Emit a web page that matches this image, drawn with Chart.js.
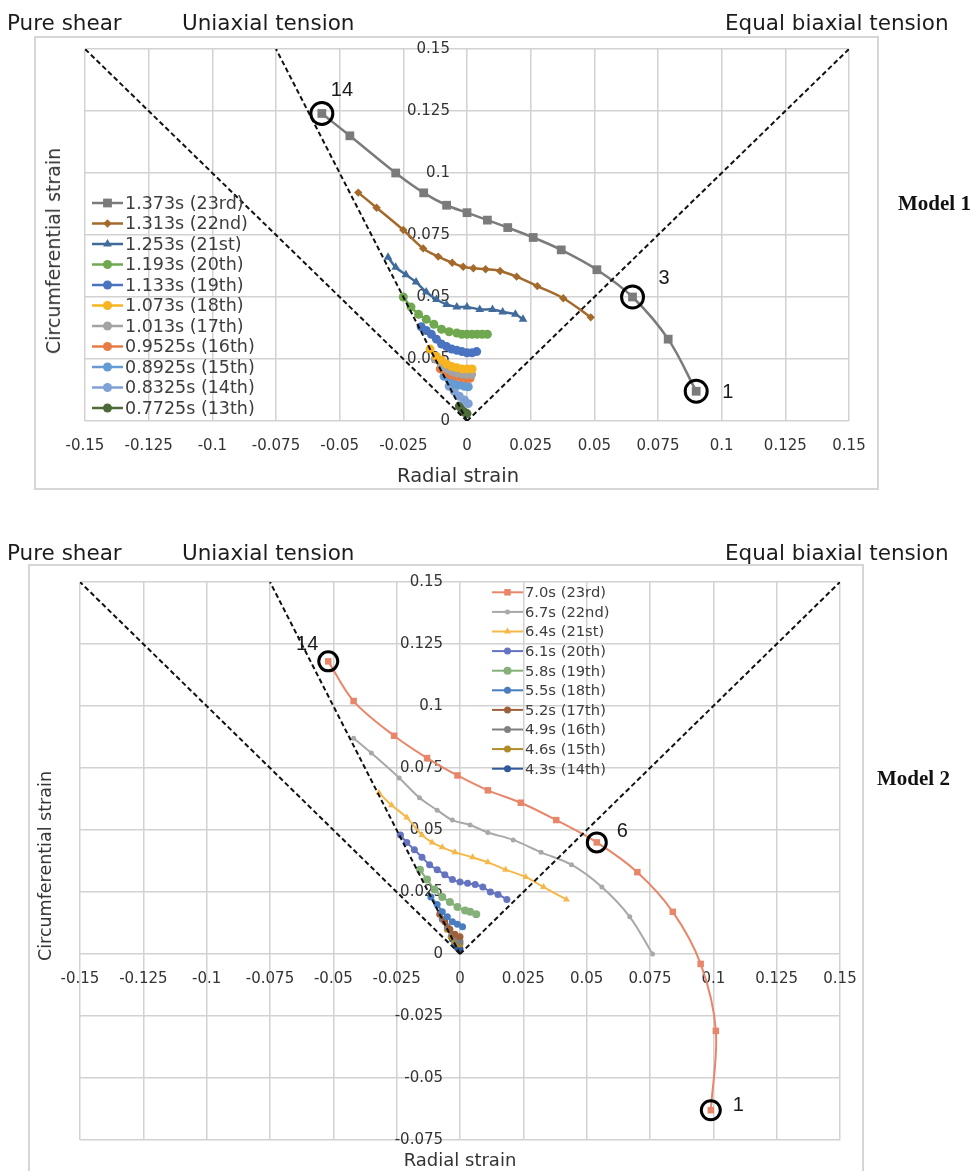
<!DOCTYPE html>
<html>
<head>
<meta charset="utf-8">
<script src="https://cdn.jsdelivr.net/npm/chart.js@4.4.1/dist/chart.umd.min.js"></script>
<style>
  body { margin: 0; width: 980px; height: 1171px; overflow: hidden; position: relative; background: #fff; font-family: "DejaVu Sans", sans-serif; }
  .frame { position: absolute; border: 2px solid #d6d6d6; box-sizing: border-box; }
  .t { position: absolute; white-space: nowrap; color: #1c1c1c; line-height: 26px; }
  .hdr { font-size: 21.5px; }
  .model { font-family: "Liberation Serif", serif; font-weight: bold; font-size: 21px; color: #111; }
  .axt { color: #333; }
  canvas { position: absolute; left: 0; }
</style>
</head>
<body>
<div class="frame" style="left:34px;top:36px;width:845px;height:454px"></div>
<div class="frame" style="left:28px;top:564px;width:836px;height:640px"></div>

<canvas id="c1" width="980" height="500" style="top:0"></canvas>
<canvas id="c2" width="980" height="631" style="top:540px"></canvas>

<div class="t hdr" style="left:7px;top:10px">Pure shear</div>
<div class="t hdr" style="left:182px;top:10px">Uniaxial tension</div>
<div class="t hdr" style="left:725px;top:10px">Equal biaxial tension</div>
<div class="t model" style="left:898px;top:190px">Model 1</div>
<div class="t axt" style="left:458px;top:463px;font-size:19.5px;transform:translateX(-50%)">Radial strain</div>
<div class="t axt" style="left:53px;top:251px;font-size:19px;transform:translate(-50%,-50%) rotate(-90deg)">Circumferential strain</div>

<div class="t hdr" style="left:7px;top:540px">Pure shear</div>
<div class="t hdr" style="left:182px;top:540px">Uniaxial tension</div>
<div class="t hdr" style="left:725px;top:540px">Equal biaxial tension</div>
<div class="t model" style="left:877px;top:765px">Model 2</div>
<div class="t axt" style="left:460px;top:1147px;font-size:18px;transform:translateX(-50%)">Radial strain</div>
<div class="t axt" style="left:45px;top:866px;font-size:17.5px;transform:translate(-50%,-50%) rotate(-90deg)">Circumferential strain</div>

<script>
// strain paths – [radial, circumferential] pairs

// reference lines (same in both models)
const pureShearLine = [[0, 0], [-0.15, 0.15]];
const uniaxialLine = [[0, 0], [-0.075, 0.15]];
const biaxialLine = [[0, 0], [0.15, 0.15]];

// Model 1
const m1Labels = ["1.373s (23rd)", "1.313s (22nd)", "1.253s (21st)", "1.193s (20th)", "1.133s (19th)",
  "1.073s (18th)", "1.013s (17th)", "0.9525s (16th)", "0.8925s (15th)", "0.8325s (14th)", "0.7725s (13th)"];
const m1s23 = [[0.090, 0.012], [0.079, 0.033], [0.065, 0.050], [0.051, 0.061], [0.037, 0.069], [0.026, 0.074],
  [0.016, 0.078], [0.008, 0.081], [0.000, 0.084], [-0.008, 0.087], [-0.017, 0.092], [-0.028, 0.100],
  [-0.046, 0.115], [-0.057, 0.124]];
const m1s22 = [[0.0486, 0.0418], [0.0378, 0.0495], [0.0276, 0.0544], [0.0195, 0.0582], [0.013, 0.0605],
  [0.0073, 0.0612], [0.0025, 0.0616], [-0.0015, 0.0622], [-0.0058, 0.0638], [-0.0113, 0.0663],
  [-0.0172, 0.0696], [-0.025, 0.077], [-0.0355, 0.086], [-0.0427, 0.0921]];
const m1s21 = [[0.022, 0.041], [0.019, 0.043], [0.014, 0.044], [0.010, 0.045], [0.005, 0.045], [0.000, 0.046],
  [-0.004, 0.046], [-0.008, 0.047], [-0.012, 0.049], [-0.016, 0.052], [-0.020, 0.056], [-0.024, 0.059],
  [-0.028, 0.062], [-0.031, 0.066]];
const m1s20 = [[0.008, 0.035], [0.006, 0.035], [0.004, 0.035], [0.002, 0.035], [0.000, 0.035], [-0.002, 0.035],
  [-0.004, 0.0355], [-0.007, 0.036], [-0.010, 0.037], [-0.013, 0.039], [-0.016, 0.041], [-0.019, 0.043],
  [-0.022, 0.046], [-0.025, 0.050]];
const m1s19 = [[0.0038, 0.028], [0.002, 0.0275], [0.000, 0.0275], [-0.002, 0.028], [-0.004, 0.0285],
  [-0.006, 0.029], [-0.008, 0.030], [-0.010, 0.031], [-0.012, 0.033], [-0.014, 0.035], [-0.016, 0.0365],
  [-0.018, 0.038]];
const m1s18 = [[0.002, 0.021], [0.000, 0.021], [-0.002, 0.021], [-0.004, 0.0215], [-0.006, 0.022],
  [-0.008, 0.023], [-0.010, 0.0245], [-0.012, 0.026], [-0.0145, 0.029]];
const m1s17 = [[0.0018, 0.0188], [0.000, 0.0188], [-0.002, 0.019], [-0.004, 0.0193], [-0.006, 0.020],
  [-0.008, 0.021], [-0.010, 0.0225], [-0.0125, 0.025]];
const m1s16 = [[0.0012, 0.0172], [0.000, 0.0172], [-0.002, 0.0175], [-0.004, 0.018], [-0.006, 0.0185],
  [-0.008, 0.0195], [-0.0105, 0.021]];
const m1s15 = [[0.0005, 0.0138], [-0.001, 0.014], [-0.003, 0.0145], [-0.005, 0.015], [-0.007, 0.0165],
  [-0.009, 0.018]];
const m1s14 = [[0.0005, 0.007], [-0.001, 0.0085], [-0.003, 0.010], [-0.005, 0.012], [-0.007, 0.014]];
const m1s13 = [[0.000, 0.003], [-0.001, 0.0035], [-0.002, 0.0045], [-0.003, 0.006]];
const m1Series = [m1s23, m1s22, m1s21, m1s20, m1s19, m1s18, m1s17, m1s16, m1s15, m1s14, m1s13];
const m1Circled = [0, 2, 13];          // point numbers 1, 3, 14 of the 23rd path
const m1CircleText = ["1", "3", "14"];

// Model 2
const m2Labels = ["7.0s (23rd)", "6.7s (22nd)", "6.4s (21st)", "6.1s (20th)", "5.8s (19th)",
  "5.5s (18th)", "5.2s (17th)", "4.9s (16th)", "4.6s (15th)", "4.3s (14th)"];
const m2s23 = [[0.099, -0.063], [0.101, -0.031], [0.095, -0.004], [0.084, 0.017], [0.070, 0.033],
  [0.054, 0.045], [0.038, 0.054], [0.024, 0.061], [0.011, 0.066], [-0.001, 0.072], [-0.013, 0.079],
  [-0.026, 0.088], [-0.042, 0.102], [-0.052, 0.118]];
const m2s22 = [[0.076, 0.000], [0.067, 0.015], [0.056, 0.027], [0.044, 0.036], [0.032, 0.041], [0.021, 0.046],
  [0.011, 0.049], [0.004, 0.052], [-0.003, 0.054], [-0.009, 0.058], [-0.016, 0.063], [-0.024, 0.071],
  [-0.035, 0.081], [-0.042, 0.087]];
const m2s21 = [[0.042, 0.022], [0.033, 0.027], [0.026, 0.031], [0.018, 0.034], [0.011, 0.037], [0.005, 0.039],
  [-0.002, 0.041], [-0.007, 0.043], [-0.011, 0.045], [-0.015, 0.048], [-0.021, 0.055], [-0.027, 0.060],
  [-0.032, 0.065]];
const m2s20 = [[0.0185, 0.022], [0.015, 0.024], [0.012, 0.025], [0.009, 0.027], [0.006, 0.028], [0.003, 0.0285],
  [0.000, 0.029], [-0.003, 0.030], [-0.006, 0.032], [-0.009, 0.034], [-0.012, 0.036], [-0.015, 0.039],
  [-0.018, 0.042], [-0.021, 0.045], [-0.0235, 0.048]];
const m2s19 = [[0.0064, 0.016], [0.004, 0.017], [0.002, 0.0175], [-0.001, 0.019], [-0.004, 0.021],
  [-0.007, 0.023], [-0.010, 0.026], [-0.013, 0.030], [-0.0158, 0.034]];
const m2s18 = [[0.001, 0.011], [-0.001, 0.012], [-0.003, 0.013], [-0.005, 0.015], [-0.007, 0.017],
  [-0.009, 0.020], [-0.0115, 0.023]];
const m2s17 = [[0.000, 0.007], [-0.002, 0.008], [-0.004, 0.010], [-0.006, 0.013], [-0.008, 0.016]];
const m2s16 = [[0.000, 0.005], [-0.001, 0.006], [-0.003, 0.008], [-0.005, 0.011], [-0.007, 0.014]];
const m2s15 = [[0.000, 0.004], [-0.002, 0.005], [-0.0035, 0.007], [-0.005, 0.010]];
const m2s14 = [[0.000, 0.002], [-0.001, 0.0025], [-0.002, 0.004], [-0.003, 0.006]];
const m2Series = [m2s23, m2s22, m2s21, m2s20, m2s19, m2s18, m2s17, m2s16, m2s15, m2s14];
const m2Circled = [0, 5, 13];          // point numbers 1, 6, 14 of the 23rd path
const m2CircleText = ["1", "6", "14"];

const axisTicks = [-0.15, -0.125, -0.1, -0.075, -0.05, -0.025, 0, 0.025, 0.05, 0.075, 0.1, 0.125, 0.15];

// looks
const m1Colors = ["#7b7b7b", "#a36a2c", "#416b9b", "#70a84f", "#4a73c0", "#f7b421", "#a3a3a3", "#e67c44", "#659bd3", "#7ea1d6", "#4c6b39"];
const m1Styles = ["rect", "rectRot", "triangle", "circle", "circle", "circle", "circle", "circle", "circle", "circle", "circle"];
const m1Radius = [6.2, 4.2, 5, 4.5, 4.5, 4.5, 4.5, 4.5, 4.5, 4.5, 4.5];
const m2Colors = ["#e8866a", "#a8a8a8", "#f7b84a", "#6474c0", "#86b07a", "#4a7cc0", "#a0603a", "#808080", "#b08b2a", "#325a9a"];
const m2Styles = ["rect", "circle", "triangle", "circle", "circle", "circle", "circle", "circle", "circle", "circle"];
const m2Radius = [4.6, 2.5, 4, 3.5, 4, 3.5, 3.5, 3.5, 3.5, 3.5];

const FONT = '"DejaVu Sans", sans-serif';
const LABEL_GAP = -0.0067;   // y labels sit a little left of the x = 0 line
const toXY = (pts) => pts.map((p) => ({ x: p[0], y: p[1] }));
const fmt = (v) => String(+(+v).toFixed(4));

function markerPath(ctx, style, r, x, y) {
  ctx.beginPath();
  if (style === "rect") {
    const s = r / Math.SQRT2;
    ctx.rect(x - s, y - s, 2 * s, 2 * s);
  } else if (style === "rectRot") {
    ctx.moveTo(x, y - r); ctx.lineTo(x + r, y); ctx.lineTo(x, y + r); ctx.lineTo(x - r, y); ctx.closePath();
  } else if (style === "triangle") {
    ctx.moveTo(x, y - r); ctx.lineTo(x + r * 0.87, y + r * 0.5); ctx.lineTo(x - r * 0.87, y + r * 0.5); ctx.closePath();
  } else {
    ctx.arc(x, y, r, 0, Math.PI * 2);
  }
}

// legend drawn inside the plot, like the spreadsheet original
function legendPlugin(cfg) {
  return {
    id: "sketchLegend",
    afterDatasetsDraw(chart) {
      const ctx = chart.ctx;
      const items = chart.data.datasets.filter((d) => d.inLegend);
      ctx.save();
      ctx.font = `${cfg.size}px ${FONT}`;
      ctx.textBaseline = "middle";
      ctx.textAlign = "left";
      items.forEach((d, i) => {
        const y = cfg.top + i * cfg.row;
        ctx.strokeStyle = d.borderColor;
        ctx.lineWidth = d.borderWidth;
        ctx.beginPath();
        ctx.moveTo(cfg.left, y);
        ctx.lineTo(cfg.left + cfg.line, y);
        ctx.stroke();
        ctx.fillStyle = d.borderColor;
        markerPath(ctx, d.pointStyle, d.pointRadius, cfg.left + cfg.line / 2, y);
        ctx.fill();
        ctx.fillStyle = "#3d3d3d";
        ctx.fillText(d.label, cfg.left + cfg.line + 2, y + 1);
      });
      ctx.restore();
    },
  };
}

// numbers next to the circled points
function notesPlugin(notes) {
  return {
    id: "sketchNotes",
    afterDatasetsDraw(chart) {
      const ctx = chart.ctx;
      const xs = chart.scales.x;
      const ys = chart.scales.y;
      ctx.save();
      ctx.font = '20px "Liberation Sans", sans-serif';
      ctx.fillStyle = "#1a1a1a";
      ctx.textBaseline = "middle";
      notes.forEach((n) => {
        ctx.textAlign = n.align;
        ctx.fillText(n.text, xs.getPixelForValue(n.pt[0]) + n.dx, ys.getPixelForValue(n.pt[1]) + n.dy);
      });
      ctx.restore();
    },
  };
}

function buildChart(canvasId, o) {
  const guides = [pureShearLine, uniaxialLine, biaxialLine].map((pts) => ({
    data: toXY(pts),
    showLine: true,
    borderColor: "#111",
    borderWidth: 2,
    borderDash: [5, 3],
    pointRadius: 0,
    tension: 0,
    order: -1,
  }));

  const paths = o.series.map((pts, i) => ({
    label: o.labels[i],
    data: toXY(pts),
    showLine: true,
    inLegend: true,
    borderColor: o.colors[i],
    backgroundColor: o.colors[i],
    borderWidth: o.lineWidth,
    pointStyle: o.styles[i],
    pointRadius: o.radius[i],
    pointBorderWidth: 0,
    tension: 0.35,
    order: i,
  }));

  const rings = {
    data: toXY(o.circled.map((k) => o.series[0][k])),
    showLine: false,
    pointStyle: "circle",
    pointRadius: o.ring,
    pointBackgroundColor: "rgba(0,0,0,0)",
    pointBorderColor: "#000",
    pointBorderWidth: 3,
    order: -2,
  };

  const tickFont = { family: FONT, size: 15 };

  return new Chart(document.getElementById(canvasId), {
    type: "scatter",
    data: { datasets: [rings, ...guides, ...paths] },
    options: {
      responsive: false,
      animation: false,
      devicePixelRatio: 1,
      layout: { padding: o.padding },
      scales: {
        x: {
          type: "linear",
          min: -0.15,
          max: 0.15,
          position: { y: 0 },
          afterBuildTicks: (axis) => { axis.ticks = axisTicks.map((v) => ({ value: v })); },
          ticks: { callback: fmt, font: tickFont, color: "#333", padding: 16, maxRotation: 0, autoSkip: false },
          grid: { color: "#d2d2d2", lineWidth: 1.5, drawTicks: false },
          border: { display: false },
        },
        y: {
          type: "linear",
          min: o.yMin,
          max: 0.15,
          position: { x: LABEL_GAP },
          afterBuildTicks: (axis) => {
            axis.ticks = axisTicks.filter((v) => v >= o.yMin - 1e-9).map((v) => ({ value: v }));
          },
          ticks: { callback: fmt, font: tickFont, color: "#333", padding: 0, autoSkip: false },
          grid: { color: "#d2d2d2", lineWidth: 1.5, drawTicks: false },
          border: { display: false },
        },
      },
      plugins: {
        legend: { display: false },
        tooltip: { enabled: false },
      },
    },
    plugins: [legendPlugin(o.legend), notesPlugin(o.notes)],
  });
}

buildChart("c1", {
  series: m1Series,
  labels: m1Labels,
  colors: m1Colors,
  styles: m1Styles,
  radius: m1Radius,
  lineWidth: 2.5,
  circled: m1Circled,
  ring: 11,
  yMin: 0,
  padding: { left: 85, right: 131, top: 49, bottom: 79 },
  legend: { left: 92, top: 203, row: 20.5, line: 31, size: 17.5 },
  notes: [
    { text: m1CircleText[0], pt: m1s23[m1Circled[0]], dx: 26, dy: 1, align: "left" },
    { text: m1CircleText[1], pt: m1s23[m1Circled[1]], dx: 26, dy: -19, align: "left" },
    { text: m1CircleText[2], pt: m1s23[m1Circled[2]], dx: 9, dy: -23, align: "left" },
  ],
});

buildChart("c2", {
  series: m2Series,
  labels: m2Labels,
  colors: m2Colors,
  styles: m2Styles,
  radius: m2Radius,
  lineWidth: 2,
  circled: m2Circled,
  ring: 9.5,
  yMin: -0.075,
  padding: { left: 80, right: 140, top: 42, bottom: 31 },
  legend: { left: 492, top: 52.3, row: 19.6, line: 31, size: 14.7 },
  notes: [
    { text: m2CircleText[0], pt: m2s23[m2Circled[0]], dx: 22, dy: -5, align: "left" },
    { text: m2CircleText[1], pt: m2s23[m2Circled[1]], dx: 20, dy: -11, align: "left" },
    { text: m2CircleText[2], pt: m2s23[m2Circled[2]], dx: -10, dy: -17, align: "right" },
  ],
});
</script>
</body>
</html>
